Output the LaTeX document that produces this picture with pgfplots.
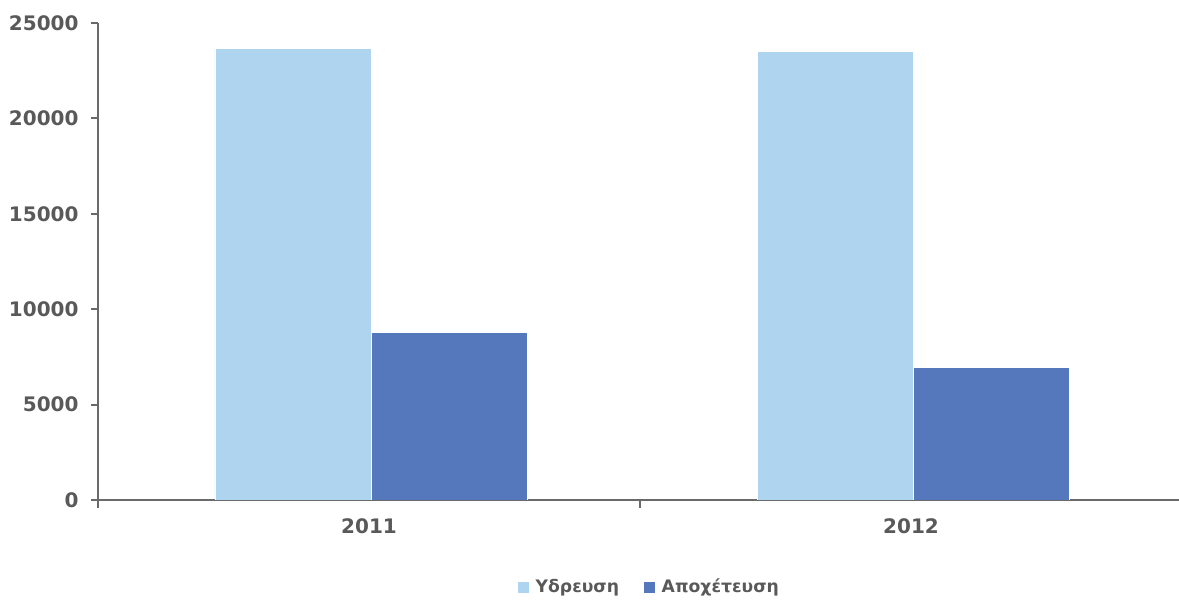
\documentclass[border=0pt]{standalone}
\usepackage{pgfplots}
\pgfplotsset{compat=1.18}
\usepackage{fontspec}
\setmainfont{DejaVu Sans}
\definecolor{lightbar}{HTML}{AED4F0}
\definecolor{darkbar}{HTML}{5577BC}
\definecolor{txtgray}{HTML}{595959}
\definecolor{axgray}{HTML}{6A6A6A}
\begin{document}
\begin{tikzpicture}
\begin{axis}[
  scale only axis,
  width=542pt, height=238.5pt,
  xmin=-0.5, xmax=1.5,
  ymin=0, ymax=25000,
  axis lines=left,
  axis line style={axgray, line width=1.2pt, -},
  ybar, bar width=78pt,
  xtick={0,1}, xticklabels={2011,2012},
  minor xtick={-0.5,0.5},
  ytick={0,5000,10000,15000,20000,25000},
  tick align=outside,
  major tick length=3.5pt,
  minor tick length=4pt,
  x tick style={draw=none},
  minor x tick style={draw=axgray, line width=1pt},
  y tick style={draw=axgray, line width=1pt},
  tick label style={font=\fontsize{10}{12}\selectfont\bfseries, text=txtgray},
  yticklabel style={xshift=-2.7pt},
  xticklabel style={yshift=-2.5pt},
  scaled y ticks=false,
  /pgf/number format/assume math mode=true,
  yticklabel={\pgfmathprintnumber[fixed,precision=0,1000 sep={}]{\tick}},
  legend style={draw=none, at={(0.5,0)}, anchor=center, yshift=-43.5pt, xshift=4.5pt,
    font=\fontsize{8.6}{10}\selectfont\bfseries, text=txtgray,
    /tikz/every even column/.append style={column sep=12pt},
    nodes={inner sep=0.5pt}},
  legend columns=2,
  legend image code/.code={\path[#1] (0pt,0pt) -- (8pt,0pt); \node[inner sep=0pt, minimum width=5pt, minimum height=5pt, fill=#1, draw=none, anchor=west] at (0pt,0pt) {};},
]
\addplot[fill=lightbar, draw=white, line width=0.3pt, bar shift=-38pt, legend image code/.code={\path (0pt,0pt) -- (8pt,0pt); \fill[lightbar] (0pt,-2.5pt) rectangle (5pt,2.5pt);}] coordinates {(0,23670) (1,23530)};
\addplot[fill=darkbar, draw=white, line width=0.3pt, bar shift=40pt, legend image code/.code={\path (0pt,0pt) -- (8pt,0pt); \fill[darkbar] (0pt,-2.5pt) rectangle (5pt,2.5pt);}] coordinates {(0,8770) (1,6950)};
\legend{Υδρευση, Αποχέτευση}
\coordinate (ll) at (rel axis cs:0,0);
\coordinate (ur) at (rel axis cs:1,1);
\end{axis}
\pgfresetboundingbox
\path ([xshift=-49pt,yshift=-50pt]ll) rectangle ([xshift=-1.5pt,yshift=11.5pt]ur);
\end{tikzpicture}
\end{document}
